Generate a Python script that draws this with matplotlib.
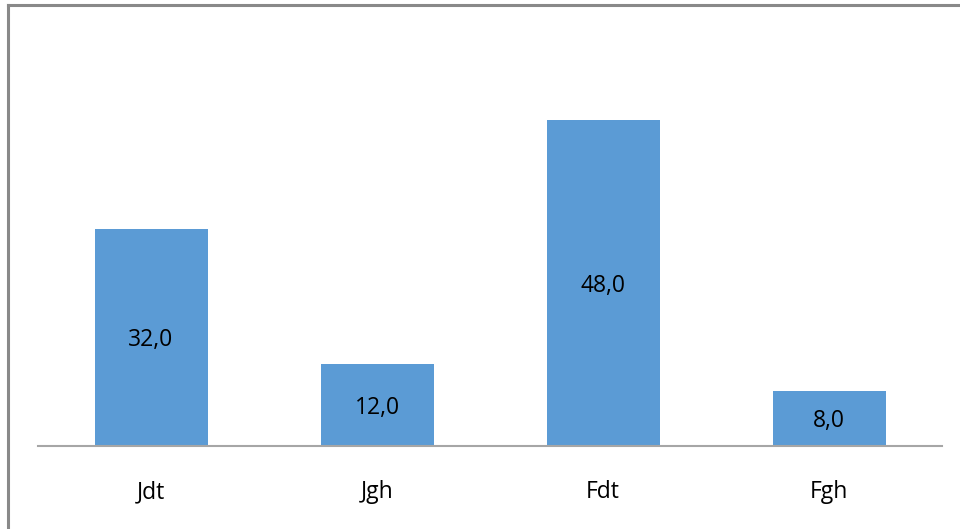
import matplotlib
matplotlib.use("Agg")
import matplotlib.pyplot as plt
from matplotlib.lines import Line2D

categories = ["Jdt", "Jgh", "Fdt", "Fgh"]
values = [32.0, 12.0, 48.0, 8.0]

plt.rcParams["font.family"] = ["Open Sans", "DejaVu Sans"]

fig = plt.figure(figsize=(9.6, 5.29), dpi=100)
ax = fig.add_axes([38 / 960, 1 - 445.5 / 529, (942 - 38) / 960, (445.5 - 38.7) / 529])

x = range(len(categories))
bars = ax.bar(x, values, width=0.5, color="#5b9bd5", zorder=2)
for b, v in zip(bars, values):
    ax.text(b.get_x() + b.get_width() / 2, v / 2, f"{v:.1f}".replace(".", ","),
            ha="center", va="center_baseline", fontsize=16.5, color="#000000")

ax.set_xlim(-0.5, len(categories) - 0.5)
ax.set_ylim(0, 60)
ax.set_xticks(list(x))
ax.set_xticklabels(categories, fontsize=16.5)
ax.tick_params(axis="x", length=0, pad=25)
ax.set_yticks([])
for s in ["top", "right", "left"]:
    ax.spines[s].set_visible(False)
ax.spines["bottom"].set_color("#a6a6a6")
ax.spines["bottom"].set_linewidth(1.5)

# outer frame (left and top edges)
fig.add_artist(Line2D([8 / 960, 8 / 960], [0, 1 - 5 / 529], transform=fig.transFigure,
                      color="#898989", linewidth=2.2))
fig.add_artist(Line2D([8 / 960, 1], [1 - 5 / 529, 1 - 5 / 529], transform=fig.transFigure,
                      color="#898989", linewidth=2.2))

fig.savefig("out.png", dpi=100)
